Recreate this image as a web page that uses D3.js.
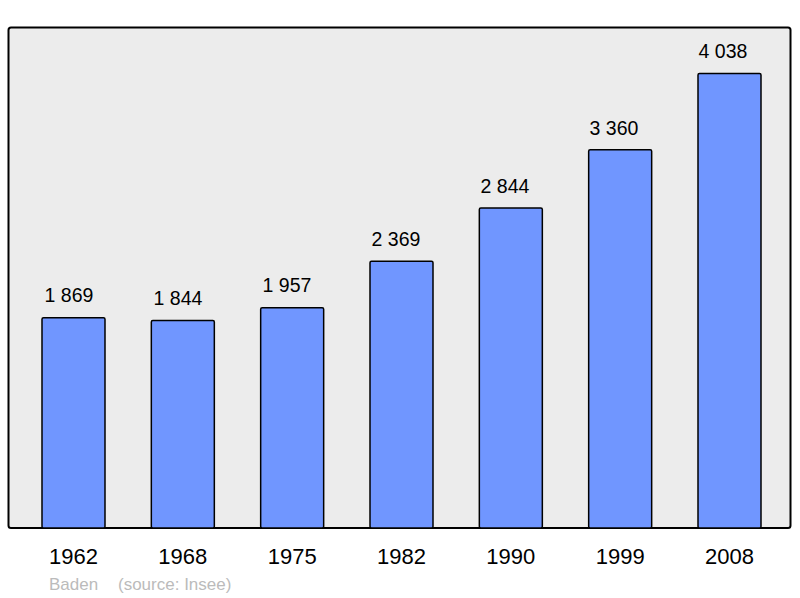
<!DOCTYPE html>
<html><head><meta charset="utf-8">
<script src="https://cdn.jsdelivr.net/npm/d3@7"></script>
<style>html,body{margin:0;padding:0;background:#fff;}svg{display:block;}</style>
</head><body>
<svg id="c" width="800" height="598"></svg>
<script>
const years = ["1962","1968","1975","1982","1990","1999","2008"];
const population = [1869,1844,1957,2369,2844,3360,4038];
const commune = "Baden";
const source = "(source: Insee)";

const svg = d3.select("#c");
const font = "'Liberation Sans', Arial, sans-serif";

// frame
svg.append("rect").attr("x",8.5).attr("y",27.5).attr("width",782).attr("height",500.5)
  .attr("rx",2.5).attr("fill","#ececec").attr("stroke","#000").attr("stroke-width",2);

const x = d3.scalePoint().domain(years).range([18.83,784.17]).padding(0.5);
const xl = d3.scalePoint().domain(years).range([14.5,777.5]).padding(0.5);
const y = d3.scaleLinear().domain([0,4038]).range([528,73.5]);
const bw = 63;
const fmt = d3.formatLocale({decimal:",",thousands:"\u00a0",grouping:[3],currency:["",""]}).format(",d");

const data = years.map((yr,i)=>({yr, v: population[i]}));

svg.selectAll("rect.bar").data(data).enter().append("rect").attr("class","bar")
  .attr("x",d=>x(d.yr)-bw/2).attr("y",d=>y(d.v)).attr("width",bw).attr("height",d=>528-y(d.v))
  .attr("rx",1.5).attr("fill","#7096ff").attr("stroke","#000").attr("stroke-width",1.5);

svg.selectAll("text.val").data(data).enter().append("text").attr("class","val")
  .attr("x",d=>xl(d.yr)).attr("y",d=>y(d.v)-15.3).attr("text-anchor","middle")
  .attr("font-family",font).attr("font-size",19.5).attr("fill","#000").text(d=>fmt(d.v));

// x axis labels
const axis = d3.axisBottom(x).tickSize(0).tickPadding(0);
const g = svg.append("g").attr("transform","translate(-0.5,0)").call(axis);
g.select(".domain").remove();
g.selectAll("text").attr("y",564).attr("dy",null).attr("font-family",font).attr("font-size",22).attr("fill","#000");

svg.append("text").attr("x",49).attr("y",590).attr("font-family",font).attr("font-size",17)
  .attr("fill","#bbbbbb").text(commune);
svg.append("text").attr("x",118).attr("y",590).attr("font-family",font).attr("font-size",17)
  .attr("fill","#bbbbbb").text(source);
</script>
</body></html>
